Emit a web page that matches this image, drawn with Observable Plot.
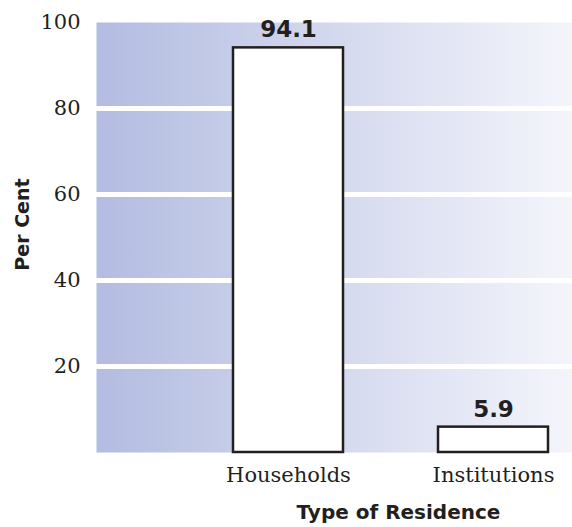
<!DOCTYPE html>
<html>
<head>
<meta charset="utf-8">
<script src="https://cdn.jsdelivr.net/npm/d3@7"></script>
<script src="https://cdn.jsdelivr.net/npm/@observablehq/plot@0.6"></script>
<style>
  html, body { margin: 0; padding: 0; background: #fff; }
</style>
</head>
<body>
<div id="chart"></div>
<script>
const categories = ["Households", "Institutions"];
const values = [94.1, 5.9];
const yTicks = [20, 40, 60, 80, 100];
const xTitle = "Type of Residence";
const yTitle = "Per Cent";

const data = categories.map((c, i) => ({category: c, value: values[i]}));
const ink = "#231f20";

const chart = Plot.plot({
  width: 572,
  height: 527,
  marginLeft: 96,
  marginRight: 0,
  marginTop: 22,
  marginBottom: 75,
  style: {fontFamily: "DejaVu Serif", fontSize: "21px", color: ink, background: "white"},
  x: {domain: categories, paddingInner: 0.462, paddingOuter: 0.389, align: 0.852, label: null},
  y: {domain: [0, 100], label: null},
  marks: [
    Plot.frame({fill: "url(#bgGrad)", stroke: null}),
    Plot.ruleY(yTicks.filter(t => t < 100), {stroke: "white", strokeWidth: 5}),
    Plot.barY(data, {x: "category", y: "value", fill: "white", stroke: ink, strokeWidth: 2.5}),
    Plot.text(data, {x: "category", y: "value", text: d => d.value.toFixed(1), dy: -18, lineAnchor: "middle",
      fontFamily: "DejaVu Sans", fontWeight: "bold", fontSize: 23, fill: ink}),
    Plot.axisY({ticks: yTicks, tickSize: 0, tickPadding: 16, label: null, fontSize: 21}),
    Plot.axisX({tickSize: 0, tickPadding: 15, label: null, fontSize: 21}),
    Plot.text([xTitle], {frameAnchor: "bottom", dx: 64, dy: 60, lineAnchor: "middle", textAnchor: "middle",
      fontFamily: "DejaVu Sans", fontWeight: "bold", fontSize: 20, fill: ink}),
    Plot.text([yTitle], {frameAnchor: "left", dx: -74, dy: -13, rotate: -90, lineAnchor: "middle", textAnchor: "middle",
      fontFamily: "DejaVu Sans", fontWeight: "bold", fontSize: 19, fill: ink})
  ]
});

const svg = d3.select(chart);
const defs = svg.insert("defs", ":first-child");
const grad = defs.append("linearGradient").attr("id", "bgGrad").attr("x1", 0).attr("x2", 1).attr("y1", 0).attr("y2", 0);
grad.append("stop").attr("offset", "0%").attr("stop-color", "#b3bce1");
grad.append("stop").attr("offset", "100%").attr("stop-color", "#f4f5fb");

document.getElementById("chart").appendChild(chart);
</script>
</body>
</html>
